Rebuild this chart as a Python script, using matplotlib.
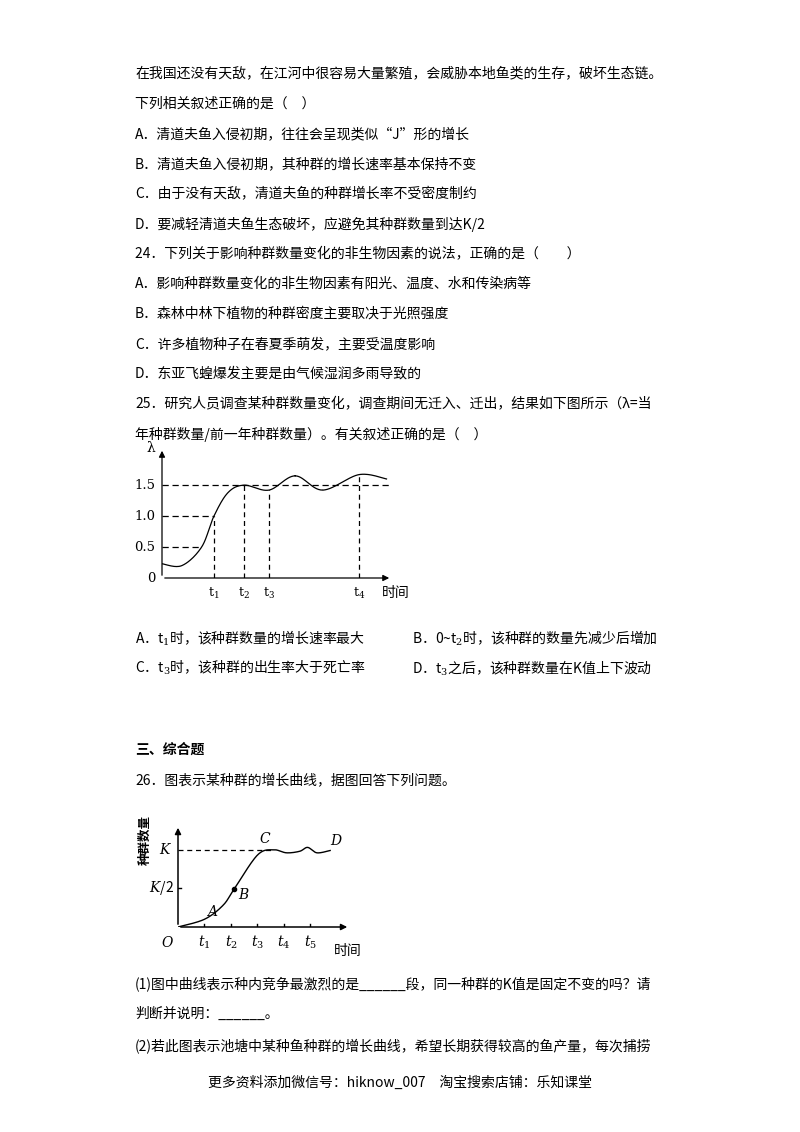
import numpy as np
import matplotlib
matplotlib.use("Agg")
import matplotlib.pyplot as plt

plt.rcParams['font.family'] = ['Noto Sans CJK SC', 'DejaVu Sans']
plt.rcParams['mathtext.fontset'] = 'dejavuserif'

W, H = 800, 1132
fig = plt.figure(figsize=(8, 11.32), dpi=100)

def T(x, y, s, **kw):
    fig.text(x / W, 1 - y / H, s, va='center', ha=kw.pop('ha', 'left'), fontsize=kw.pop('fontsize', 10), **kw)

lines = [
    (73, "在我国还没有天敌，在江河中很容易大量繁殖，会威胁本地鱼类的生存，破坏生态链。"),
    (104, "下列相关叙述正确的是（　）"),
    (134, "A．清道夫鱼入侵初期，往往会呈现类似“J”形的增长"),
    (164, "B．清道夫鱼入侵初期，其种群的增长速率基本保持不变"),
    (194, "C．由于没有天敌，清道夫鱼的种群增长率不受密度制约"),
    (224, "D．要减轻清道夫鱼生态破坏，应避免其种群数量到达K/2"),
    (254, "24．下列关于影响种群数量变化的非生物因素的说法，正确的是（　　）"),
    (284, "A．影响种群数量变化的非生物因素有阳光、温度、水和传染病等"),
    (314, "B．森林中林下植物的种群密度主要取决于光照强度"),
    (344, "C．许多植物种子在春夏季萌发，主要受温度影响"),
    (374, "D．东亚飞蝗爆发主要是由气候湿润多雨导致的"),
    (404, "25．研究人员调查某种群数量变化，调查期间无迁入、迁出，结果如下图所示（λ=当"),
    (434, "年种群数量/前一年种群数量）。有关叙述正确的是（　）"),
    (780, "26．图表示某种群的增长曲线，据图回答下列问题。"),
    (984, "(1)图中曲线表示种内竞争最激烈的是______段，同一种群的K值是固定不变的吗？请"),
    (1014, "判断并说明：______。"),
    (1047, "(2)若此图表示池塘中某种鱼种群的增长曲线，希望长期获得较高的鱼产量，每次捕捞"),
]
for y, s in lines:
    T(135, y, s)
T(135, 638, "A．t$_1$时，该种群数量的增长速率最大")
T(412, 638, "B．0~t$_2$时，该种群的数量先减少后增加")
T(135, 668, "C．t$_3$时，该种群的出生率大于死亡率")
T(412, 668, "D．t$_3$之后，该种群数量在K值上下波动")
T(135, 750, "三、综合题", fontweight='bold')
T(400, 1083, "更多资料添加微信号：hiknow_007　淘宝搜索店铺：乐知课堂", ha='center')

def catmull(px, py, n=30):
    px = np.asarray(px, float); py = np.asarray(py, float)
    P = np.stack([px, py], 1)
    P = np.vstack([P[0], P, P[-1]])
    out = []
    for i in range(1, len(P) - 2):
        p0, p1, p2, p3 = P[i-1], P[i], P[i+1], P[i+2]
        t = np.linspace(0, 1, n)[:, None]
        out.append(0.5 * ((2*p1) + (-p0+p2)*t + (2*p0-5*p1+4*p2-p3)*t**2 + (-p0+3*p1-3*p2+p3)*t**3))
    out = np.vstack(out)
    return out[:, 0], out[:, 1]

def add_ax(x0, y0, x1, y1, xlim, ylim):
    ax = fig.add_axes([x0 / W, 1 - y1 / H, (x1 - x0) / W, (y1 - y0) / H])
    ax.set_xlim(*xlim); ax.set_ylim(*ylim)
    ax.axis('off')
    return ax

# ---------- Chart 1 ----------
c1_x = [0, 0.9, 1.8, 2.36, 3.0, 3.73, 4.86, 6.05, 7.3, 8.95, 10.2]
c1_y = [0.23, 0.2, 0.5, 1.0, 1.38, 1.5, 1.42, 1.65, 1.42, 1.67, 1.6]
c1_t = [2.36, 3.73, 4.86, 8.95]
c1_tl = ["t$_1$", "t$_2$", "t$_3$", "t$_4$"]
c1_yt = [0.5, 1.0, 1.5]
c1_ytl = ["0.5", "1.0", "1.5"]

ax1 = add_ax(162, 448, 392, 578, (0, 10.45), (0, 2.1))
k = dict(color='k', lw=0.9)
ax1.annotate('', xy=(10.45, 0), xytext=(0, 0), arrowprops=dict(arrowstyle='-|>', color='k', lw=0.9, mutation_scale=9))
ax1.annotate('', xy=(0, 2.1), xytext=(0, 0), arrowprops=dict(arrowstyle='-|>', color='k', lw=0.9, mutation_scale=9))
cx, cy = catmull(c1_x, c1_y)
ax1.plot(cx, cy, **k)
ax1.plot([0, 10.3], [1.5, 1.5], ls=(0, (5, 3)), **k)
for v in (0.5, 1.0):
    xi = np.interp(v, c1_y[1:4], c1_x[1:4])
    ax1.plot([0, xi], [v, v], ls=(0, (5, 3)), **k)
for t in c1_t:
    yv = np.interp(t, cx, cy)
    ax1.plot([t, t], [0, yv], ls=(0, (4, 3)), **k)
for t, l in zip(c1_t, c1_tl):
    ax1.text(t, -0.13, l, ha='center', va='top', fontsize=9, family='serif')
for v, l in zip(c1_yt, c1_ytl):
    ax1.text(-0.3, v, l, ha='right', va='center', fontsize=9.5, family='serif')
ax1.text(-0.3, 0, "0", ha='right', va='center', fontsize=9.5, family='serif')
ax1.text(-0.3, 2.1, "λ", ha='right', va='center', fontsize=10, family='serif')
ax1.text(10.0, -0.13, "时间", ha='left', va='top', fontsize=10)
for a in [ax1]:
    for c in a.texts: c.set_clip_on(False)

# ---------- Chart 2 ----------
c2_x = [0, 1.0, 1.7, 2.12, 3.0, 3.6, 4.1, 4.6, 4.9, 5.25, 5.75]
c2_y = [0, 0.1, 0.28, 0.49, 0.93, 1.0, 0.96, 0.98, 1.03, 0.96, 0.99]
c2_t = [1, 2, 3, 4, 5]
c2_tl = ["$t_1$", "$t_2$", "$t_3$", "$t_4$", "$t_5$"]

ax2 = add_ax(178, 825, 350, 927, (0, 6.5), (0, 1.32))
ax2.annotate('', xy=(6.5, 0), xytext=(0, 0), arrowprops=dict(arrowstyle='-|>', color='k', lw=1.1, mutation_scale=9))
ax2.annotate('', xy=(0, 1.32), xytext=(0, 0), arrowprops=dict(arrowstyle='-|>', color='k', lw=1.1, mutation_scale=9))
cx, cy = catmull(c2_x, c2_y)
ax2.plot(cx, cy, color='k', lw=1.0)
ax2.plot([0, 3.5], [1, 1], ls=(0, (4, 3)), color='k', lw=0.9)
ax2.plot([0, 0.12], [0.5, 0.5], color='k', lw=1)
ax2.plot([2.12], [0.49], 'ko', ms=3)
for t, l in zip(c2_t, c2_tl):
    ax2.plot([t, t], [0, 0.04], color='k', lw=1)
    ax2.text(t, -0.08, l, ha='center', va='top', fontsize=10, family='serif', clip_on=False)
ax2.text(-0.2, 1.0, "$K$", ha='right', va='center', fontsize=10, clip_on=False)
ax2.text(-0.15, 0.5, "$K$/2", ha='right', va='center', fontsize=10, clip_on=False)
ax2.text(-0.15, -0.1, "$O$", ha='right', va='top', fontsize=10, clip_on=False)
ax2.text(1.3, 0.1, "$A$", ha='center', va='bottom', fontsize=10)
ax2.text(2.5, 0.42, "$B$", ha='center', va='center', fontsize=10)
ax2.text(3.3, 1.05, "$C$", ha='center', va='bottom', fontsize=10)
ax2.text(6.0, 1.02, "$D$", ha='center', va='bottom', fontsize=10, clip_on=False)
ax2.text(5.9, -0.22, "时间", ha='left', va='top', fontsize=10, clip_on=False)
ax2.text(-1.25, 1.12, "种群数量", ha='center', va='center', rotation=90, fontsize=9, fontweight='bold', clip_on=False)

fig.savefig("out.png", dpi=100)
